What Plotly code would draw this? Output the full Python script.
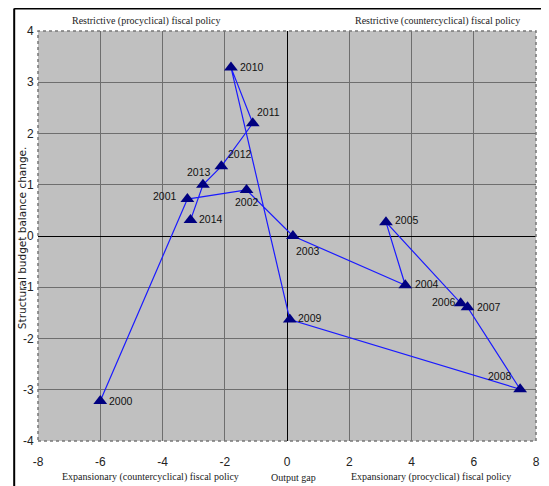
import plotly.graph_objects as go

years = ["2000", "2001", "2002", "2003", "2004", "2005", "2006", "2007",
         "2008", "2009", "2010", "2011", "2012", "2013", "2014"]
output_gap = [-6.0, -3.2, -1.3, 0.19, 3.8, 3.18, 5.58, 5.8,
              7.49, 0.09, -1.8, -1.1, -2.11, -2.7, -3.1]
budget_change = [-3.22, 0.72, 0.9, 0.0, -0.96, 0.27, -1.31, -1.39,
                 -2.99, -1.63, 3.29, 2.2, 1.36, 1.0, 0.31]

x_ticks = [-8, -6, -4, -2, 0, 2, 4, 6, 8]
x_tick_labels = ["-8", "-6", "-4", "-2", "0", "2", "4", "6", "8"]
y_ticks = [-4, -3, -2, -1, 0, 1, 2, 3, 4]
y_tick_labels = ["-4", "-3", "-2", "-1", "0", "1", "2", "3", "4"]

# label placement (anchor, x shift px, y shift px) per year label
label_style = {
    "2000": ("left", 7, 0), "2001": ("right", -8, 3), "2002": ("center", 0, -12),
    "2003": ("left", 1, -15), "2004": ("left", 8, 1), "2005": ("left", 7, 2),
    "2006": ("right", -3, 1), "2007": ("left", 7, 0), "2008": ("right", -6, 13),
    "2009": ("left", 6, 2), "2010": ("left", 7, 0), "2011": ("left", 2, 11),
    "2012": ("left", 5, 12), "2013": ("center", -4, 13), "2014": ("left", 6, 1),
}

narrow = "Liberation Sans Narrow, Arial Narrow, Liberation Sans, Arial, sans-serif"
serif = "Liberation Serif, Times New Roman, serif"

fig = go.Figure()
fig.add_trace(go.Scatter(
    x=output_gap, y=budget_change, mode="lines",
    line=dict(color="#1a1aff", width=1.2), hoverinfo="skip", showlegend=False))
fig.add_trace(go.Scatter(
    x=output_gap, y=budget_change, mode="markers", text=years,
    marker=dict(symbol="triangle-up", size=12, color="#000080"),
    showlegend=False))

fig.update_xaxes(range=[-8, 8], tickvals=x_ticks, ticktext=x_tick_labels,
                 showgrid=True, gridcolor="#6e6e6e", gridwidth=1, zeroline=True,
                 zerolinecolor="black", zerolinewidth=1.3,
                 ticks="outside", ticklen=10, tickcolor="rgba(0,0,0,0)",
                 tickfont=dict(family=narrow, size=12, color="#222"),
                 showline=False)
fig.update_yaxes(range=[-4, 4], tickvals=y_ticks, ticktext=y_tick_labels,
                 showgrid=True, gridcolor="#6e6e6e", gridwidth=1, zeroline=True,
                 zerolinecolor="black", zerolinewidth=1.3,
                 ticks="outside", ticklen=1, tickcolor="rgba(0,0,0,0)",
                 tickfont=dict(family=narrow, size=12, color="#222"),
                 showline=False)

# page is offset by the 8px body margin; figure = page - 8
shapes = [
    dict(type="rect", xref="paper", yref="paper", x0=0, x1=1, y0=0, y1=1,
         line=dict(color="#777777", width=1.5, dash="dot"), layer="above"),
    dict(type="line", xref="paper", yref="paper", x0=-0.0478, x1=1.05,
         y0=1.0549, y1=1.0549, line=dict(color="black", width=2)),
    dict(type="line", xref="paper", yref="paper", x0=-0.0478, x1=-0.0478,
         y0=-0.15, y1=1.0549, line=dict(color="black", width=2)),
]

def px_x(px):
    return (px - 38) / 502.0

def px_y(py):
    return (441 - py) / 410.0

annotations = []
for yr, gx, by in zip(years, output_gap, budget_change):
    anchor, dx, dy = label_style[yr]
    annotations.append(dict(text=yr, x=gx, y=by, xref="x", yref="y",
                            showarrow=False, xanchor=anchor, yanchor="middle",
                            xshift=dx, yshift=dy,
                            font=dict(family=narrow, size=10.5, color="#111")))

annots = [
    dict(text="Restrictive (procyclical) fiscal policy", x=px_x(147), y=px_y(21)),
    dict(text="Restrictive (countercyclical) fiscal policy", x=px_x(441), y=px_y(21)),
    dict(text="Expansionary (countercyclical) fiscal policy", x=px_x(151), y=px_y(477)),
    dict(text="Output gap", x=px_x(296), y=px_y(477)),
    dict(text="Expansionary (procyclical) fiscal policy", x=px_x(434), y=px_y(477)),
]
for a in annots:
    annotations.append(dict(text=a["text"], x=a["x"], y=a["y"], xref="paper",
                            yref="paper", showarrow=False, xanchor="center",
                            yanchor="middle",
                            font=dict(family=serif, size=10, color="#222")))
annotations.append(dict(text="Structural budget balance change.", x=px_x(22),
                        y=px_y(238), xref="paper", yref="paper", showarrow=False,
                        textangle=-90, xanchor="center", yanchor="middle",
                        font=dict(family="DejaVu Sans", size=10.5, color="#222")))

fig.update_layout(
    width=541, height=478,
    margin=dict(l=30, r=9, t=23, b=45),
    paper_bgcolor="white", plot_bgcolor="#c0c0c0",
    shapes=shapes, annotations=annotations,
)

fig.write_html("out.html")
